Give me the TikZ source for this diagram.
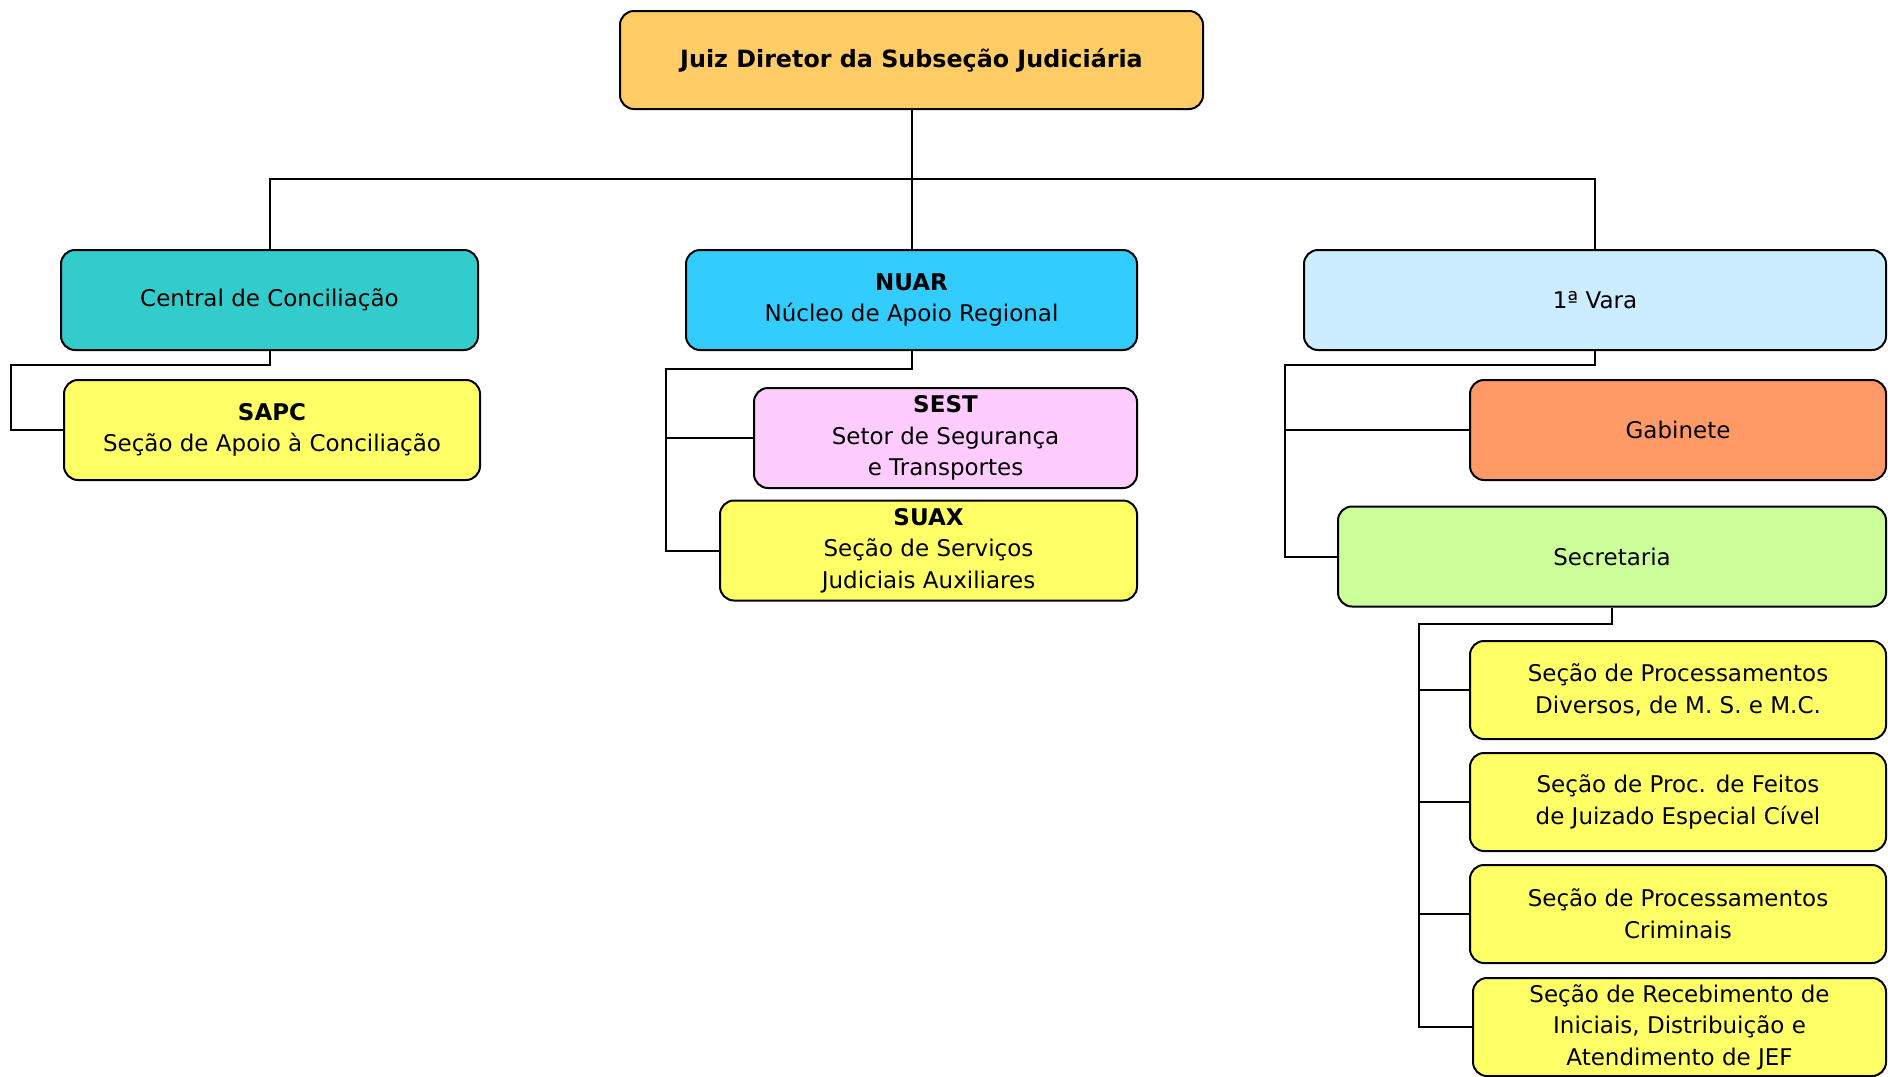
\documentclass[tikz,border=0pt]{standalone}
\usepackage{fontspec}
\setmainfont{DejaVu Sans}
\usepackage{tikz}
\usetikzlibrary{calc,positioning}
\definecolor{diretor}{HTML}{FFCC66}
\definecolor{concil}{HTML}{33CCCC}
\definecolor{nucleo}{HTML}{33CCFF}
\definecolor{vara}{HTML}{CCECFF}
\definecolor{secao}{HTML}{FFFF66}
\definecolor{setor}{HTML}{FFCCFF}
\definecolor{gabin}{HTML}{FF9966}
\definecolor{secret}{HTML}{CCFF99}

\begin{document}
\begin{tikzpicture}[x=0.5pt,y=-0.5pt, every node/.style={font=\fontsize{11.5}{15.8}\selectfont,align=center},
  unit/.style={rounded corners=7pt,draw=black,line width=1pt,fill=#1,minimum height=50pt,inner sep=0pt},
  link/.style={draw=black,line width=1pt}]
  \useasboundingbox (0,0) rectangle (1888,1076);
  % topo
  \node[unit=diretor,minimum width=291.5pt,minimum height=49pt,font=\fontsize{11.9}{15.8}\selectfont\bfseries] (top) at (911.5,60) {Juiz Diretor da Subseção Judiciária};
  % segundo nivel
  \node[unit=concil,minimum width=208.5pt] (ccon) at (269.5,300) {Central de Conciliação};
  \node[unit=nucleo,minimum width=225.5pt] (nuar) at (911.5,300) {\textbf{NUAR}\\Núcleo de Apoio Regional};
  \node[unit=vara,minimum width=291pt] (vara) at (1595,300) {1ª Vara};
  % terceiro nivel
  \node[unit=secao,minimum width=208pt] (sapc) at (272,430) {\textbf{SAPC}\\Seção de Apoio à Conciliação};
  \node[unit=setor,minimum width=191.5pt] (sest) at (945.5,438) {\textbf{SEST}\\Setor de Segurança\\e Transportes};
  \node[unit=secao,minimum width=208.5pt] (suax) at (928.5,550.5) {\textbf{SUAX}\\Seção de Serviços\\Judiciais Auxiliares};
  \node[unit=gabin,minimum width=208pt] (gab) at (1678,430) {Gabinete};
  \node[unit=secret,minimum width=274pt] (secr) at (1612,556.5) {Secretaria};
  % secoes da secretaria
  \node[unit=secao,minimum width=208pt,minimum height=49pt] (spd) at (1678,690) {Seção de Processamentos\\Diversos, de M. S. e M.C.};
  \node[unit=secao,minimum width=208pt,minimum height=49pt] (sjec) at (1678,802) {Seção de Proc. de Feitos\\de Juizado Especial Cível};
  \node[unit=secao,minimum width=208pt,minimum height=49pt] (scrim) at (1678,914) {Seção de Processamentos\\Criminais};
  \node[unit=secao,minimum width=206.5pt,minimum height=49pt] (sjef) at (1679.5,1027) {Seção de Recebimento de\\Iniciais, Distribuição e\\Atendimento de JEF};
  % ligacoes
  \coordinate (bus) at (911.5,179.4);
  \coordinate (ccbend) at (11,365);
  \coordinate (nubend) at (666,368.5);
  \coordinate (vabend) at (1285,365);
  \coordinate (sebend) at (1419,624);
  \draw[link] (top.south) -- (nuar.north);
  \draw[link] (ccon.north) |- (bus) -| (vara.north);
  \draw[link] (ccon.south) |- (ccbend) |- (sapc.west);
  \draw[link] (nuar.south) |- (nubend) |- (suax.west);
  \draw[link] (nubend) |- (sest.west);
  \draw[link] (vara.south) |- (vabend) |- (secr.west);
  \draw[link] (vabend) |- (gab.west);
  \draw[link] (secr.south) |- (sebend) |- (sjef.west);
  \draw[link] (sebend) |- (spd.west);
  \draw[link] (sebend) |- (sjec.west);
  \draw[link] (sebend) |- (scrim.west);
\end{tikzpicture}
\end{document}
